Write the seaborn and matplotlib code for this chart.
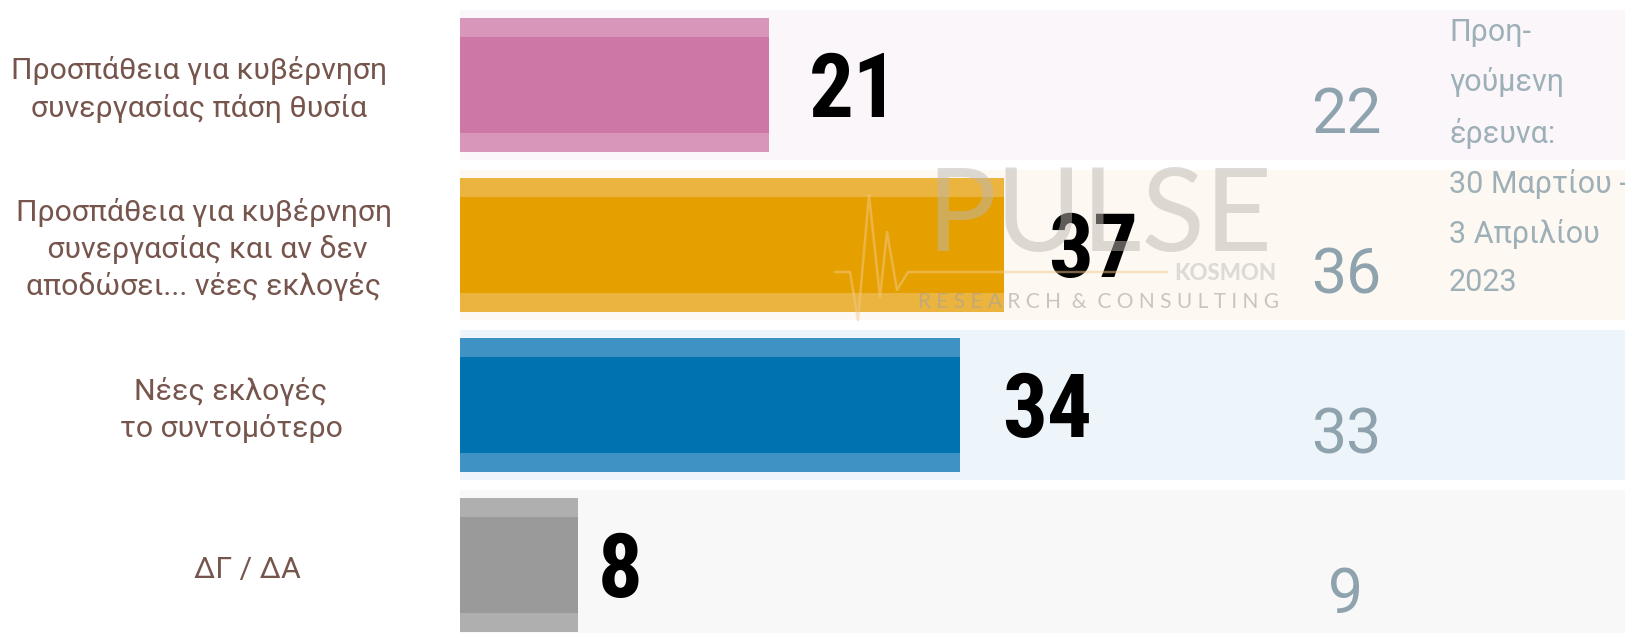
import matplotlib.pyplot as plt
import seaborn as sns
import pandas as pd
from matplotlib import font_manager
from matplotlib.lines import Line2D
from matplotlib.transforms import blended_transform_factory

categories = [
    "Προσπάθεια για κυβέρνηση\nσυνεργασίας πάση θυσία",
    "Προσπάθεια για κυβέρνηση\n συνεργασίας και αν δεν\nαποδώσει... νέες εκλογές",
    "Νέες εκλογές\nτο συντομότερο",
    "ΔΓ / ΔΑ",
]
current = [21, 37, 34, 8]
previous = [22, 36, 33, 9]
previous_note = "Προη-\nγούμενη\nέρευνα:\n30 Μαρτίου -\n3 Απριλίου\n2023"

bar_colors = ["#cc77a6", "#e5a000", "#0072b0", "#9a9a9a"]
edge_colors = ["#d996bb", "#ebb43f", "#3f93c4", "#afafaf"]
band_colors = ["#fbf6fa", "#fdf8f1", "#eef5fa", "#f8f8f8"]

W, H = 1625, 633
px_per_unit = 14.7
left_px = 460

sns.set_style("white")
plt.rcParams["font.family"] = ["Roboto", "DejaVu Sans"]

# look for a narrow bold face for the big numbers
num_font = dict(family=["Roboto", "DejaVu Sans"], fontweight="bold", fontsize=58)
ttf = font_manager.fontManager.ttflist
names = {f.name for f in ttf}
for cand in ["Roboto Condensed", "Liberation Sans Narrow", "Open Sans Condensed"]:
    if cand in names:
        num_font = dict(family=[cand, "Roboto"], fontweight="bold", fontsize=64)
        break
else:
    if any(f.name == "DejaVu Sans" and f.stretch == "condensed" for f in ttf):
        num_font = dict(family=["DejaVu Sans"], fontstretch="condensed",
                        fontweight="bold", fontsize=62)

fig = plt.figure(figsize=(W / 100, H / 100), dpi=100)
ax = fig.add_axes([left_px / W, 0, 1 - left_px / W, 1])
xmax = (W - left_px) / px_per_unit

df = pd.DataFrame({"label": categories, "value": current})

# background bands behind each row
ax.barh(range(len(categories)), xmax, height=0.94, color=band_colors,
        linewidth=0, zorder=0)

# outer (lighter) bar, then the darker core
sns.barplot(data=df, y="label", x="value", hue="label", palette=edge_colors,
            width=0.84, saturation=1, legend=False, ax=ax, zorder=1,
            linewidth=0, edgecolor="none")
sns.barplot(data=df, y="label", x="value", hue="label", palette=bar_colors,
            width=0.6, saturation=1, legend=False, ax=ax, zorder=2,
            linewidth=0, edgecolor="none")

ax.set_xlim(0, xmax)
ax.set_ylim(3.425, -0.53)
ax.set_xlabel("")
ax.set_ylabel("")
ax.set_xticks([])
ax.set_yticks([])
sns.despine(ax=ax, left=True, bottom=True)

# category labels to the left
trans = blended_transform_factory(fig.transFigure, ax.transData)
label_x = [199, 204, 231, 247]
for i, lab in enumerate(categories):
    ax.text(label_x[i] / W, i + 0.03, lab, transform=trans, ha="center",
            va="center", fontsize=21.8, color="#76554d", linespacing=1.36,
            clip_on=False)

# watermark
wm = dict(transform=fig.transFigure, ha="center", va="center", zorder=5)
fig.text(1099 / W, 1 - 218 / H, "PULSE", family=["Lato", "DejaVu Sans"],
         fontweight="normal", fontsize=84, color="#bdb7b1", alpha=0.5, **wm)
fig.text(1099 / W, 1 - 302 / H, "R E S E A R C H  &  C O N S U L T I N G",
         family=["Lato", "DejaVu Sans"], fontsize=15, color="#a8a29c",
         alpha=0.6, **wm)
fig.text(1276 / W, 1 - 273 / H, "KOSMON", family=["Lato", "DejaVu Sans"],
         fontweight="black", fontsize=16, color="#dad6d2", alpha=0.9,
         transform=fig.transFigure, ha="right", va="center", zorder=5)
pulse_x = [835, 850, 858, 869, 880, 887, 897, 908, 1167]
pulse_y = [272, 272, 320, 195, 297, 232, 290, 272, 272]
fig.add_artist(Line2D([x / W for x in pulse_x], [1 - y / H for y in pulse_y],
                      color="#f3c98a", alpha=0.5, lw=1.8, zorder=5))

# current values
label_pad = [2.7, 3.0, 2.9, 1.4]
for i, v in enumerate(current):
    ax.text(v + label_pad[i], i + 0.045, str(v), ha="left", va="center",
            color="black", zorder=10, **num_font)

# previous survey values
prev_x = (1346 - left_px) / px_per_unit
for i, v in enumerate(previous):
    ax.text(prev_x, i + 0.195, str(v), ha="center", va="center",
            fontsize=45, color="#8ea3ad", zorder=10)

note_x = (1449 - left_px) / px_per_unit
ax.text(note_x, -0.42, previous_note, ha="left", va="top", fontsize=22,
        color="#9db0b8", linespacing=1.84, zorder=10)

fig.savefig("out.png", dpi=100)
